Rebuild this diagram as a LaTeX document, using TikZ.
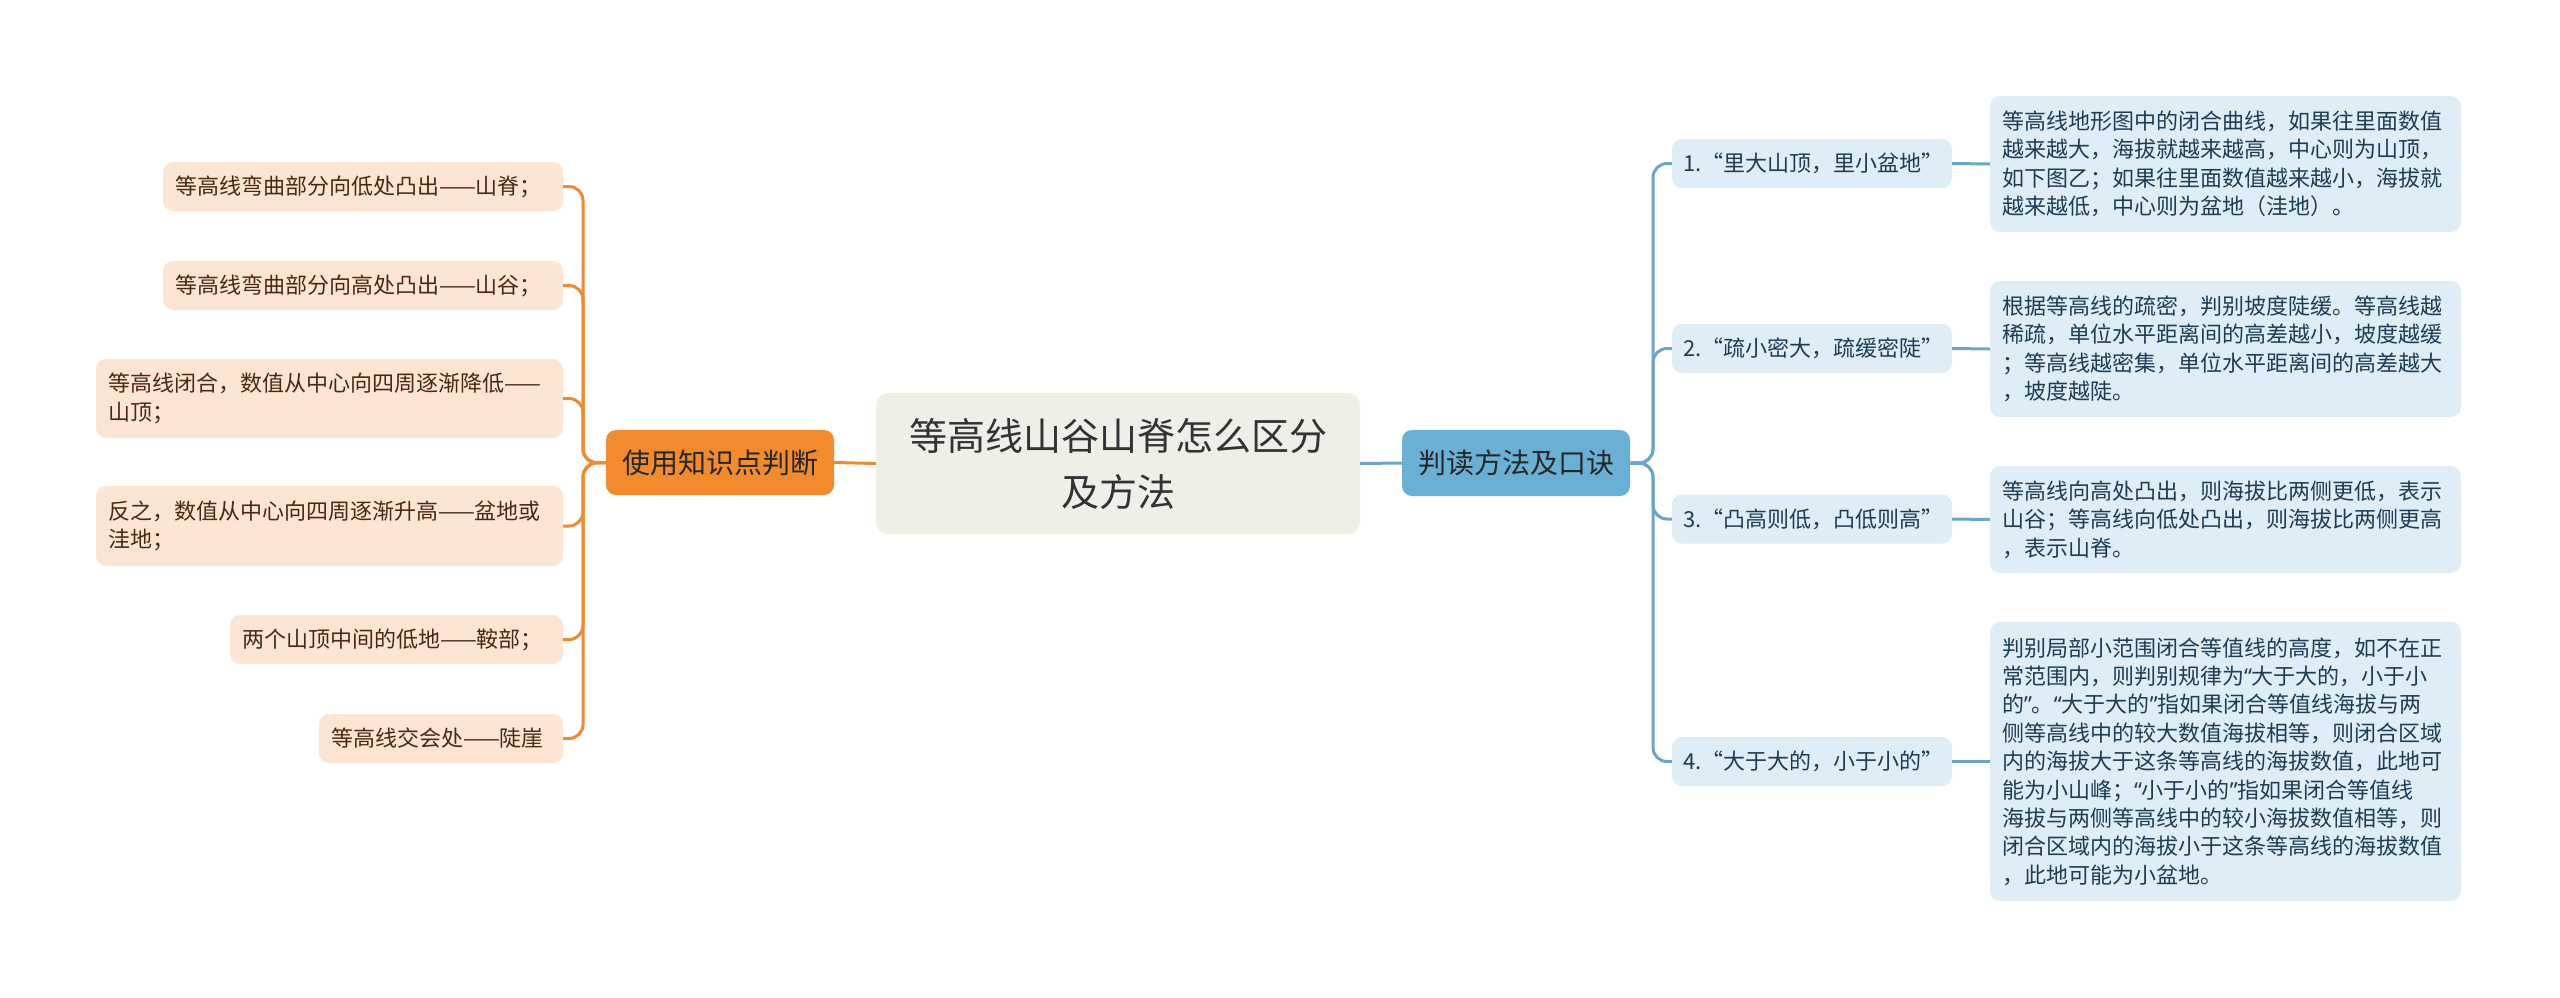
\documentclass[tikz,border=0pt]{standalone}
\usepackage{fontspec}
\setmainfont{Noto Sans CJK SC}
\newfontfamily\latinq{Noto Sans}
\newcommand\myqo{{\latinq “}}
\newcommand\myqc{{\latinq ”}}
\definecolor{leafc}{HTML}{FDE5D3}
\definecolor{leaftxt}{HTML}{4A2812}
\definecolor{orgline}{HTML}{EE8A32}
\definecolor{orgfill}{HTML}{F18B2D}
\definecolor{cenfill}{HTML}{EFEFE8}
\definecolor{bluefill}{HTML}{6AAFD4}
\definecolor{blueline}{HTML}{6BA6C8}
\definecolor{rfill}{HTML}{DEEDF6}
\definecolor{rtxt}{HTML}{1D3D55}
\tikzset{
  leaf/.style={rounded corners=10pt, fill=leafc, text=leaftxt, font=\fontsize{22}{28.5}\selectfont, align=left, inner xsep=12pt, inner ysep=0pt},
  lvltwo/.style={rounded corners=10pt, fill=rfill, text=rtxt, font=\fontsize{22}{28.5}\selectfont, align=left, inner xsep=11pt, inner ysep=0pt},
  desc/.style={rounded corners=10pt, fill=rfill, text=rtxt, font=\fontsize{22}{28.4}\selectfont, align=left, inner xsep=12pt, inner ysep=0pt},
  centerbox/.style={rounded corners=12pt, fill=cenfill, text=black!80, font=\fontsize{38}{56}\selectfont, align=center, inner sep=0pt},
  orgbox/.style={rounded corners=10pt, fill=orgfill, text=black!85, font=\fontsize{28}{34}\selectfont, align=center, inner sep=0pt},
  bluebox/.style={rounded corners=10pt, fill=bluefill, text=black!85, font=\fontsize{28}{34}\selectfont, align=center, inner sep=0pt},
  oline/.style={draw=orgline, line width=3pt, rounded corners=14pt},
  bline/.style={draw=blueline, line width=3pt, rounded corners=14pt},
}
\begin{document}
\begin{tikzpicture}[x=1pt,y=-1pt]
\useasboundingbox (0,0) rectangle (2560,997);
\fill[white] (0,0) rectangle (2560,997);

% central and main branches
\node[centerbox, minimum width=484pt, minimum height=141pt] (C) at (1118,463.5) {等高线山谷山脊怎么区分\\及方法};
\node[orgbox, minimum width=228pt, minimum height=65pt] (O) at (720,462.5) {使用知识点判断};
\node[bluebox, minimum width=228pt, minimum height=66pt] (B) at (1516,463) {判读方法及口诀};

% left leaves
\node[leaf, text width=376pt, minimum height=49pt] (L1) at (363,186.5) {等高线弯曲部分向低处凸出——山脊；};
\node[leaf, text width=376pt, minimum height=49pt] (L2) at (363,285.5) {等高线弯曲部分向高处凸出——山谷；};
\node[leaf, text width=443pt, minimum height=79pt] (L3) at (329.5,398.5) {等高线闭合，数值从中心向四周逐渐降低——\\山顶；};
\node[leaf, text width=443pt, minimum height=80pt] (L4) at (329.5,526) {反之，数值从中心向四周逐渐升高——盆地或\\洼地；};
\node[leaf, text width=309pt, minimum height=49pt] (L5) at (396.5,639.5) {两个山顶中间的低地——鞍部；};
\node[leaf, text width=220pt, minimum height=49pt] (L6) at (441,738.5) {等高线交会处——陡崖};

% right level two
\node[lvltwo, text width=258pt, minimum height=49pt] (R1) at (1812,163.5) {1.“里大山顶，里小盆地”};
\node[lvltwo, text width=258pt, minimum height=49pt] (R2) at (1812,348.5) {2.“疏小密大，疏缓密陡”};
\node[lvltwo, text width=258pt, minimum height=49pt] (R3) at (1812,519) {3.“凸高则低，凸低则高”};
\node[lvltwo, text width=258pt, minimum height=49pt] (R4) at (1812,761.5) {4.“大于大的，小于小的”};

% right descriptions
\node[desc, text width=447pt, minimum height=136pt] (D1) at (2225.5,164) {等高线地形图中的闭合曲线，如果往里面数值\\越来越大，海拔就越来越高，中心则为山顶，\\如下图乙；如果往里面数值越来越小，海拔就\\越来越低，中心则为盆地（洼地）。};
\node[desc, text width=447pt, minimum height=136pt] (D2) at (2225.5,349) {根据等高线的疏密，判别坡度陡缓。等高线越\\稀疏，单位水平距离间的高差越小，坡度越缓\\；等高线越密集，单位水平距离间的高差越大\\，坡度越陡。};
\node[desc, text width=447pt, minimum height=107pt] (D3) at (2225.5,519.5) {等高线向高处凸出，则海拔比两侧更低，表示\\山谷；等高线向低处凸出，则海拔比两侧更高\\，表示山脊。};
\node[desc, text width=447pt, minimum height=279pt] (D4) at (2225.5,761.5) {判别局部小范围闭合等值线的高度，如不在正\\常范围内，则判别规律为\myqo 大于大的，小于小\\的\myqc 。\myqo 大于大的\myqc 指如果闭合等值线海拔与两\\侧等高线中的较大数值海拔相等，则闭合区域\\内的海拔大于这条等高线的海拔数值，此地可\\能为小山峰；\myqo 小于小的\myqc 指如果闭合等值线\\海拔与两侧等高线中的较小海拔数值相等，则\\闭合区域内的海拔小于这条等高线的海拔数值\\，此地可能为小盆地。};

% trunk coordinates
\coordinate (lt) at (583,463);
\coordinate (rt) at (1653,463);

% connectors
\draw[draw=orgline, line width=3pt] (C.west) -- (O.east);
\draw[draw=blueline, line width=3pt] (C.east) -- (B.west);
\foreach \n in {L1,L2,L3,L4,L5,L6}{
  \draw[oline] (O.west) -- (lt) |- (\n.east);
}
\foreach \n in {R1,R2,R3,R4}{
  \draw[bline] (B.east) -- (rt) |- (\n.west);
}
\draw[draw=blueline, line width=3pt] (R1.east) -- (D1.west);
\draw[draw=blueline, line width=3pt] (R2.east) -- (D2.west);
\draw[draw=blueline, line width=3pt] (R3.east) -- (D3.west);
\draw[draw=blueline, line width=3pt] (R4.east) -- (D4.west);
\end{tikzpicture}
\end{document}
